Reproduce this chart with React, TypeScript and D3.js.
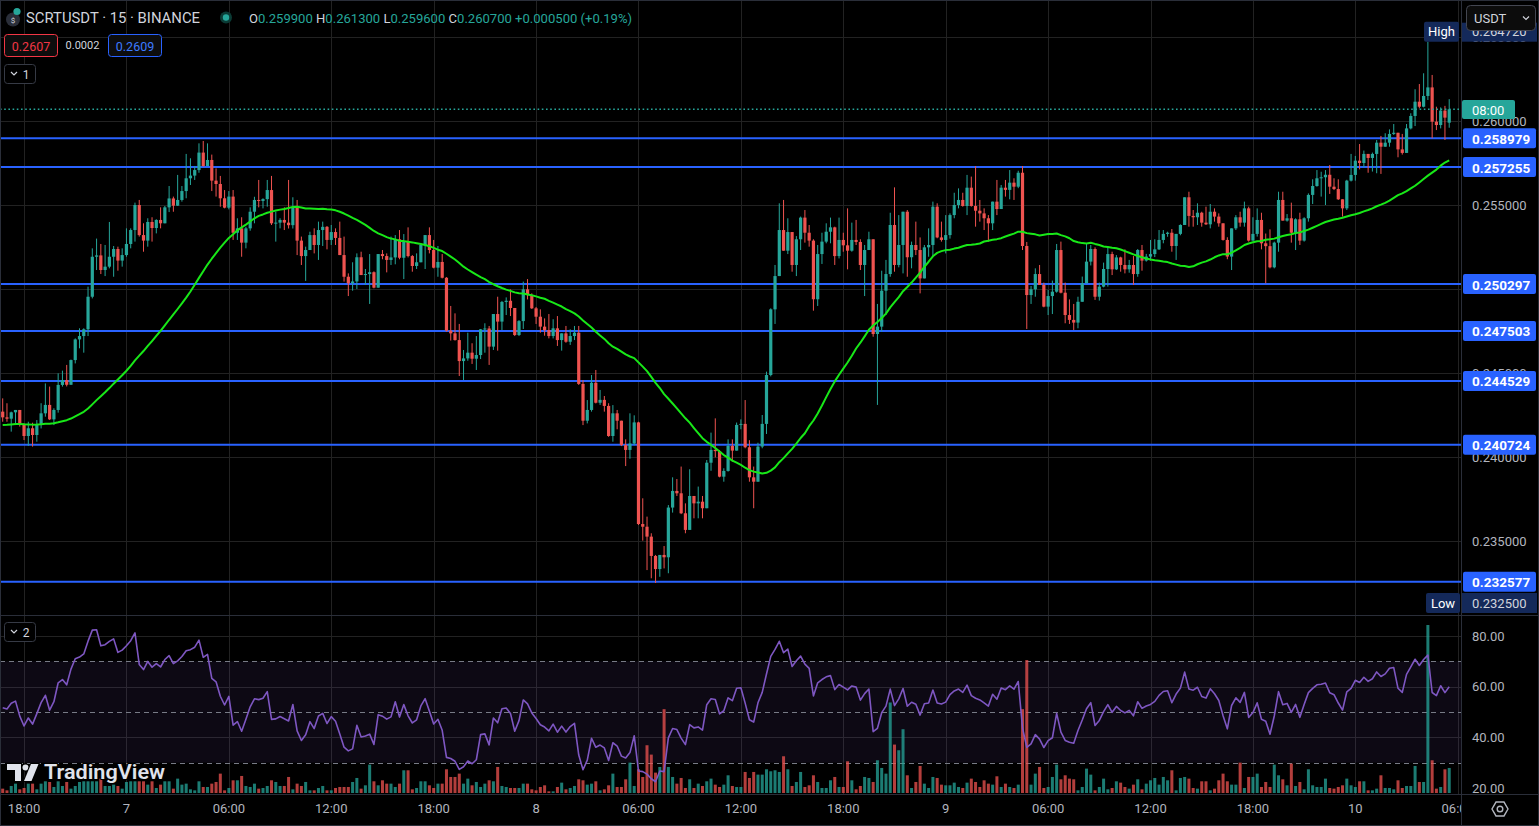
import { useEffect, useRef } from "react";
import * as d3 from "d3";

// SCRTUSDT 15m candles, prices in units of 0.0001 USDT (open = previous close,
// except the first and the last candle)
const FIRST_OPEN = 2427.0;
const LAST_OPEN = 2599.0;

const CLOSE = [
  2423.6, 2422.8, 2426.6, 2428.0, 2419.1, 2412.5, 2417.1, 2413.1, 2419.1, 2426.0,
  2431.0, 2422.4, 2428.0, 2442.9, 2445.8, 2443.0, 2457.7, 2470.0, 2472.0, 2476.0,
  2495.4, 2519.2, 2520.0, 2511.3, 2513.3, 2519.2, 2523.8, 2516.9, 2520.2, 2526.8,
  2535.1, 2550.0, 2532.1, 2528.8, 2539.9, 2536.3, 2541.1, 2539.1, 2548.6, 2553.9,
  2549.6, 2553.0, 2558.3, 2565.9, 2567.5, 2570.8, 2581.2, 2573.2, 2576.8, 2564.5,
  2562.5, 2554.0, 2548.4, 2555.0, 2533.5, 2536.1, 2527.6, 2536.1, 2546.0, 2553.0,
  2552.4, 2553.5, 2558.9, 2539.1, 2539.5, 2541.1, 2539.5, 2538.0, 2548.6, 2528.8,
  2519.6, 2523.2, 2532.1, 2526.2, 2535.1, 2537.0, 2529.2, 2533.9, 2530.4, 2520.2,
  2507.3, 2503.4, 2504.5, 2518.9, 2508.3, 2508.9, 2510.0, 2500.8, 2520.8, 2519.6,
  2517.3, 2518.8, 2529.6, 2518.6, 2528.2, 2519.6, 2513.7, 2515.9, 2526.2, 2532.1,
  2523.2, 2512.7, 2516.1, 2506.7, 2475.2, 2473.6, 2469.6, 2457.1, 2458.7, 2462.1,
  2458.5, 2460.7, 2476.0, 2476.5, 2465.7, 2485.1, 2480.6, 2492.3, 2493.0, 2488.7,
  2472.6, 2480.9, 2499.8, 2496.4, 2488.5, 2483.5, 2477.6, 2475.5, 2472.0, 2476.6,
  2469.6, 2473.6, 2468.6, 2472.0, 2474.0, 2443.5, 2421.6, 2428.0, 2444.2, 2432.3,
  2434.0, 2430.4, 2412.5, 2426.0, 2421.6, 2407.1, 2404.2, 2408.0, 2420.6, 2360.1,
  2358.5, 2352.6, 2341.1, 2333.3, 2341.7, 2340.3, 2369.9, 2379.8, 2378.4, 2366.5,
  2356.6, 2376.8, 2372.4, 2373.4, 2369.5, 2396.6, 2404.2, 2403.5, 2388.3, 2391.7,
  2406.6, 2403.8, 2419.1, 2419.7, 2405.8, 2387.9, 2385.3, 2406.2, 2419.7, 2448.8,
  2487.9, 2507.7, 2535.1, 2522.8, 2533.9, 2514.3, 2529.6, 2542.5, 2533.5, 2528.8,
  2493.9, 2520.8, 2528.2, 2534.1, 2536.7, 2519.6, 2529.2, 2526.0, 2522.8, 2529.2,
  2528.0, 2514.3, 2523.2, 2529.6, 2473.2, 2477.6, 2499.0, 2508.9, 2538.1, 2514.3,
  2526.2, 2546.0, 2518.9, 2526.2, 2523.2, 2506.3, 2524.8, 2526.2, 2549.0, 2530.7,
  2529.2, 2532.1, 2544.0, 2550.0, 2553.0, 2549.4, 2560.3, 2549.4, 2546.6, 2545.0,
  2542.1, 2539.1, 2552.0, 2547.6, 2560.3, 2559.0, 2563.3, 2560.9, 2569.2, 2525.6,
  2496.4, 2499.8, 2508.9, 2502.4, 2489.5, 2495.8, 2498.4, 2523.2, 2497.8, 2484.5,
  2481.6, 2480.0, 2492.4, 2503.4, 2516.3, 2523.8, 2495.4, 2501.4, 2511.9, 2520.8,
  2511.7, 2518.8, 2514.3, 2511.7, 2514.3, 2508.9, 2523.2, 2516.9, 2519.3, 2520.8,
  2523.6, 2529.2, 2532.8, 2533.5, 2525.6, 2532.8, 2538.1, 2554.6, 2543.5, 2542.7,
  2545.4, 2539.5, 2538.5, 2546.0, 2543.1, 2539.1, 2529.2, 2519.3, 2536.1, 2542.7,
  2539.5, 2548.0, 2528.8, 2532.8, 2541.1, 2527.2, 2525.5, 2512.9, 2527.6, 2553.0,
  2540.7, 2542.1, 2533.5, 2541.5, 2528.8, 2542.1, 2556.0, 2561.3, 2565.9, 2566.5,
  2568.0, 2560.9, 2559.5, 2553.4, 2548.0, 2564.5, 2567.9, 2576.4, 2575.0, 2580.4,
  2578.0, 2580.4, 2587.1, 2584.7, 2587.1, 2592.3, 2593.0, 2583.1, 2581.0, 2595.6,
  2603.0, 2611.5, 2608.5, 2614.9, 2620.0, 2599.6, 2597.6, 2606.2, 2602.0, 2607.0,
];

const HIGH = [
  2434.9, 2432.0, 2427.0, 2428.0, 2428.0, 2420.0, 2421.0, 2420.4, 2422.0, 2432.0,
  2443.8, 2441.9, 2429.0, 2449.8, 2451.4, 2454.8, 2458.0, 2470.6, 2476.6, 2476.6,
  2501.4, 2524.2, 2530.0, 2526.8, 2526.2, 2539.9, 2525.6, 2525.2, 2524.2, 2536.1,
  2536.1, 2551.4, 2553.0, 2539.1, 2542.1, 2542.7, 2541.5, 2548.6, 2549.4, 2561.3,
  2555.0, 2567.9, 2561.3, 2580.4, 2577.8, 2573.2, 2586.7, 2588.1, 2586.7, 2580.0,
  2571.8, 2567.3, 2558.9, 2558.3, 2558.9, 2542.1, 2542.7, 2537.0, 2548.6, 2554.9,
  2564.9, 2554.0, 2564.9, 2567.3, 2546.0, 2542.1, 2548.6, 2564.9, 2554.6, 2553.0,
  2531.2, 2525.2, 2534.1, 2536.1, 2540.1, 2540.1, 2537.5, 2538.1, 2536.1, 2540.1,
  2531.2, 2509.3, 2515.9, 2521.2, 2522.2, 2511.9, 2520.8, 2510.5, 2520.8, 2523.2,
  2521.2, 2531.2, 2532.1, 2535.1, 2532.7, 2536.7, 2520.2, 2521.2, 2526.2, 2532.1,
  2536.7, 2529.2, 2525.6, 2520.8, 2507.1, 2489.9, 2485.5, 2479.2, 2463.7, 2474.0,
  2467.7, 2472.0, 2476.2, 2479.6, 2478.0, 2485.1, 2495.4, 2492.9, 2495.0, 2499.8,
  2487.5, 2481.5, 2504.4, 2505.9, 2497.4, 2489.3, 2487.9, 2482.5, 2485.1, 2482.0,
  2483.9, 2473.6, 2478.0, 2476.0, 2478.0, 2478.0, 2445.8, 2433.9, 2448.8, 2451.8,
  2439.9, 2436.3, 2432.0, 2430.9, 2428.0, 2421.6, 2410.5, 2426.0, 2424.8, 2421.0,
  2375.4, 2364.5, 2354.6, 2341.7, 2341.7, 2347.0, 2371.4, 2387.9, 2386.9, 2394.3,
  2372.4, 2392.7, 2376.8, 2382.4, 2376.8, 2398.2, 2414.5, 2423.0, 2404.2, 2393.3,
  2410.5, 2410.5, 2420.5, 2422.4, 2433.9, 2410.0, 2394.3, 2408.5, 2425.0, 2450.8,
  2488.5, 2514.3, 2551.0, 2553.0, 2542.1, 2533.5, 2531.5, 2543.1, 2547.0, 2538.1,
  2529.6, 2526.2, 2533.5, 2539.1, 2542.5, 2537.1, 2542.5, 2533.5, 2548.0, 2539.5,
  2541.1, 2529.6, 2526.2, 2534.1, 2529.6, 2491.1, 2510.9, 2517.3, 2545.4, 2560.5,
  2544.0, 2546.0, 2547.0, 2528.2, 2540.1, 2530.7, 2526.2, 2536.1, 2552.0, 2551.0,
  2540.1, 2544.0, 2545.0, 2557.3, 2559.9, 2557.3, 2567.9, 2566.9, 2573.2, 2553.0,
  2548.0, 2544.0, 2552.0, 2564.9, 2561.9, 2564.9, 2570.8, 2565.9, 2570.4, 2573.2,
  2528.0, 2501.8, 2512.3, 2514.3, 2503.8, 2499.4, 2505.0, 2526.8, 2528.2, 2503.8,
  2493.8, 2491.1, 2495.4, 2507.4, 2526.8, 2526.2, 2524.8, 2503.8, 2515.7, 2525.2,
  2522.2, 2520.2, 2519.2, 2523.6, 2517.3, 2519.6, 2523.8, 2526.2, 2520.9, 2529.2,
  2529.6, 2535.1, 2535.1, 2534.1, 2535.7, 2532.8, 2538.5, 2554.6, 2557.9, 2547.0,
  2551.0, 2546.0, 2549.0, 2550.6, 2548.0, 2545.0, 2539.1, 2530.8, 2536.1, 2544.0,
  2546.0, 2552.0, 2549.0, 2542.7, 2548.0, 2545.4, 2533.0, 2535.5, 2528.2, 2557.9,
  2557.9, 2544.6, 2551.4, 2542.1, 2545.4, 2542.7, 2556.9, 2565.3, 2570.8, 2569.8,
  2570.8, 2573.8, 2565.9, 2565.3, 2553.4, 2565.0, 2580.4, 2579.2, 2586.3, 2582.4,
  2580.4, 2581.2, 2588.7, 2591.1, 2592.7, 2595.0, 2598.2, 2592.3, 2592.3, 2598.2,
  2604.6, 2618.9, 2622.0, 2628.4, 2647.2, 2627.4, 2608.5, 2608.1, 2609.0, 2613.0,
];

const LOW = [
  2421.0, 2421.0, 2415.1, 2419.0, 2418.1, 2410.1, 2406.6, 2406.2, 2409.1, 2417.0,
  2424.0, 2422.0, 2419.0, 2426.4, 2441.9, 2442.0, 2443.0, 2455.7, 2464.7, 2462.1,
  2472.0, 2494.4, 2511.3, 2508.9, 2507.7, 2512.3, 2507.3, 2510.9, 2513.3, 2519.2,
  2524.2, 2528.2, 2531.2, 2522.2, 2525.2, 2528.2, 2533.1, 2536.1, 2539.9, 2545.8,
  2546.0, 2549.4, 2552.0, 2554.0, 2561.9, 2564.9, 2569.2, 2572.8, 2574.4, 2558.3,
  2555.0, 2549.0, 2548.0, 2547.4, 2529.2, 2529.2, 2519.2, 2524.2, 2534.7, 2539.1,
  2548.6, 2548.0, 2549.0, 2538.1, 2528.2, 2536.1, 2535.1, 2536.0, 2536.0, 2520.2,
  2514.3, 2504.8, 2523.2, 2521.2, 2517.3, 2525.6, 2523.6, 2526.2, 2526.2, 2520.2,
  2504.4, 2495.8, 2499.0, 2500.0, 2508.3, 2502.4, 2491.1, 2500.4, 2500.8, 2517.7,
  2509.9, 2514.3, 2514.7, 2517.7, 2505.9, 2518.8, 2510.3, 2511.9, 2515.9, 2511.9,
  2521.2, 2512.3, 2507.3, 2506.3, 2474.6, 2469.3, 2469.3, 2448.2, 2445.8, 2457.3,
  2455.4, 2451.8, 2458.3, 2462.1, 2454.8, 2463.7, 2463.3, 2475.6, 2484.5, 2483.9,
  2472.0, 2472.0, 2476.2, 2493.8, 2488.1, 2479.2, 2474.0, 2472.2, 2470.6, 2470.6,
  2466.1, 2463.3, 2468.0, 2466.7, 2469.6, 2442.9, 2419.0, 2420.0, 2427.0, 2431.9,
  2431.0, 2427.0, 2412.0, 2409.1, 2416.5, 2406.5, 2394.6, 2399.0, 2407.0, 2359.5,
  2350.2, 2332.7, 2327.8, 2325.0, 2328.7, 2333.7, 2330.8, 2366.9, 2376.8, 2366.0,
  2354.6, 2356.6, 2363.5, 2363.5, 2363.5, 2372.4, 2391.8, 2399.8, 2387.9, 2385.3,
  2391.3, 2397.2, 2404.6, 2416.5, 2405.2, 2385.3, 2369.5, 2386.3, 2405.2, 2413.7,
  2448.0, 2479.2, 2511.3, 2522.8, 2520.8, 2510.3, 2507.7, 2523.2, 2527.6, 2525.2,
  2487.1, 2489.9, 2514.9, 2527.2, 2527.2, 2514.3, 2518.2, 2522.2, 2511.7, 2522.2,
  2526.2, 2511.3, 2495.8, 2524.2, 2471.6, 2431.0, 2474.6, 2484.5, 2507.3, 2510.3,
  2512.9, 2509.3, 2507.3, 2512.3, 2520.2, 2497.4, 2508.3, 2519.2, 2519.2, 2530.2,
  2528.2, 2521.2, 2530.0, 2542.1, 2548.0, 2549.0, 2544.0, 2549.0, 2537.1, 2540.1,
  2535.1, 2528.2, 2535.1, 2544.0, 2549.0, 2555.0, 2553.4, 2553.0, 2560.0, 2523.2,
  2476.2, 2491.1, 2495.4, 2502.4, 2489.1, 2484.5, 2485.1, 2497.8, 2497.4, 2479.6,
  2479.2, 2475.6, 2476.6, 2492.4, 2505.4, 2514.0, 2493.5, 2493.1, 2501.0, 2501.4,
  2508.3, 2511.3, 2510.3, 2509.3, 2509.7, 2502.4, 2507.3, 2510.9, 2516.3, 2516.9,
  2519.0, 2523.2, 2527.2, 2531.1, 2522.2, 2517.3, 2532.0, 2539.1, 2537.1, 2537.1,
  2538.1, 2537.1, 2538.1, 2536.1, 2540.1, 2537.1, 2528.8, 2517.7, 2511.3, 2535.1,
  2537.1, 2537.1, 2528.2, 2528.8, 2531.2, 2523.6, 2503.4, 2512.3, 2512.3, 2522.2,
  2540.7, 2540.1, 2527.6, 2523.2, 2526.2, 2528.2, 2540.1, 2550.6, 2560.9, 2555.0,
  2550.0, 2556.6, 2558.9, 2553.0, 2543.1, 2547.0, 2564.0, 2564.5, 2571.2, 2572.4,
  2569.2, 2569.9, 2568.9, 2568.5, 2584.7, 2584.7, 2591.7, 2578.4, 2580.0, 2581.0,
  2595.0, 2597.0, 2607.5, 2608.1, 2612.5, 2589.7, 2594.6, 2595.6, 2588.7, 2596.0,
];

// volume per candle (relative units)
const VOLUME = [
  13, 8, 21, 28, 11, 15, 28, 28, 11, 28,
  35, 33, 18, 35, 21, 33, 13, 21, 33, 35,
  35, 35, 35, 43, 21, 21, 25, 21, 13, 33,
  35, 35, 35, 35, 25, 35, 15, 25, 35, 35,
  13, 43, 25, 28, 11, 8, 35, 18, 18, 28,
  33, 58, 8, 15, 38, 38, 51, 21, 18, 28,
  13, 15, 21, 38, 33, 21, 21, 48, 11, 28,
  21, 33, 8, 8, 15, 21, 8, 8, 15, 18,
  18, 18, 33, 45, 13, 23, 85, 35, 23, 38,
  28, 28, 18, 28, 68, 68, 11, 15, 35, 35,
  23, 15, 28, 28, 71, 48, 48, 58, 28, 43,
  23, 33, 18, 28, 38, 35, 78, 21, 18, 15,
  15, 15, 28, 28, 11, 8, 18, 23, 5, 5,
  18, 31, 11, 15, 21, 41, 38, 25, 28, 35,
  8, 11, 23, 58, 18, 18, 41, 91, 21, 71,
  48, 143, 115, 61, 78, 251, 78, 48, 28, 45,
  15, 41, 15, 28, 21, 35, 43, 25, 18, 25,
  53, 21, 18, 18, 63, 45, 63, 55, 55, 71,
  65, 68, 63, 110, 71, 21, 33, 63, 18, 23,
  53, 33, 15, 15, 38, 48, 18, 18, 95, 38,
  11, 21, 48, 45, 33, 98, 75, 58, 271, 145,
  128, 191, 53, 15, 33, 81, 28, 15, 48, 45,
  25, 23, 23, 31, 18, 15, 31, 43, 33, 18,
  38, 28, 25, 50, 18, 28, 18, 15, 25, 251,
  398, 25, 58, 78, 15, 18, 48, 85, 41, 53,
  43, 41, 8, 18, 73, 55, 8, 18, 43, 11,
  15, 35, 31, 18, 13, 25, 41, 11, 28, 38,
  45, 25, 48, 38, 68, 8, 45, 48, 43, 15,
  13, 35, 35, 8, 13, 38, 58, 35, 25, 25,
  91, 15, 48, 48, 58, 18, 33, 18, 85, 53,
  41, 23, 88, 21, 33, 11, 71, 23, 18, 18,
  43, 15, 13, 18, 23, 43, 23, 18, 35, 35,
  8, 8, 13, 53, 15, 15, 11, 38, 15, 21,
  21, 81, 33, 33, 503, 98, 13, 18, 71, 75,
];

// drawn horizontal levels, price and rsi scale ticks
const LEVELS = [0.258979, 0.257255, 0.250297, 0.247503, 0.244529, 0.240724, 0.232577];
const PRICE_TICKS = [0.235, 0.24, 0.245, 0.25, 0.255, 0.26, 0.265];
const RSI_TICKS = [20, 40, 60, 80];
const RSI_GRID = [40, 60, 80];
const RSI_GUIDES = [70, 50, 30];

const MA_LENGTH = 40;
const MA_SEED = 2419; // level of the average before the first visible candle
const RSI_LENGTH = 14;
const RSI_SEED_GAIN = 3.6;
const RSI_SEED_LOSS = 3.1;

const START = new Date(2024, 5, 6, 16, 45);
const STEP_MS = 15 * 60 * 1000;

const W = 1539;
const H = 826;
const PANE_R = 1461;
const FONT = "Roboto, 'Noto Sans', Arial, sans-serif";
const UP = "#26a69a";
const DOWN = "#ef5350";
const GRID = "#222222";
const BORDER = "#2a2e39";
const AXIS_TEXT = "#b2b5be";
const LEVEL = "#2962ff";
const NAVY = "#14295a";

export default function App() {
  const ref = useRef<SVGSVGElement>(null);

  useEffect(() => {
    if (!ref.current) return;
    const svg = d3.select(ref.current);
    svg.selectAll("*").remove();

    const n = CLOSE.length;
    const bars = CLOSE.map((c, i) => {
      const o = i === 0 ? FIRST_OPEN : i === n - 1 ? LAST_OPEN : CLOSE[i - 1];
      return {
        t: new Date(START.getTime() + i * STEP_MS),
        o: o / 1e4,
        c: c / 1e4,
        h: Math.max(HIGH[i], o, c) / 1e4,
        l: Math.min(LOW[i], o, c) / 1e4,
        v: VOLUME[i],
        up: c >= o,
      };
    });

    // moving average (40) and rsi (14)
    const ma = CLOSE.map((_, i) => {
      let s = 0;
      for (let k = i - MA_LENGTH + 1; k <= i; k++) s += k >= 0 ? CLOSE[k] : MA_SEED;
      return s / MA_LENGTH / 1e4;
    });
    let gain = RSI_SEED_GAIN;
    let loss = RSI_SEED_LOSS;
    const rsi = CLOSE.map((c, i) => {
      const d = c - (i === 0 ? FIRST_OPEN : CLOSE[i - 1]);
      gain = (gain * (RSI_LENGTH - 1) + Math.max(d, 0)) / RSI_LENGTH;
      loss = (loss * (RSI_LENGTH - 1) + Math.max(-d, 0)) / RSI_LENGTH;
      return 100 - 100 / (1 + gain / loss);
    });

    const x = d3.scaleTime().domain([bars[0].t, bars[n - 1].t]).range([2.7, 2.7 + (n - 1) * 4.267]);
    const y = d3.scaleLinear().domain([0.235, 0.255]).range([541, 205]);
    const yRsi = d3.scaleLinear().domain([20, 80]).range([788, 636]);
    const yVol = d3.scaleLinear().domain([0, d3.max(VOLUME) as number]).range([793, 625]);
    const fmt = d3.format(".6f");

    const defs = svg.append("defs");
    const clip = (id: string, x0: number, y0: number, w: number, h: number) =>
      defs.append("clipPath").attr("id", id).append("rect").attr("x", x0).attr("y", y0).attr("width", w).attr("height", h);
    clip("clip-main", 0, 0, PANE_R, 615);
    clip("clip-sub", 0, 616, PANE_R, 177);
    clip("clip-time", 0, 795, PANE_R, 31);

    svg.append("rect").attr("width", W).attr("height", H).attr("fill", "#000");

    // GRID
    const timeTicks = d3.timeHour
      .range(new Date(START.getTime() - 3600e3), new Date(START.getTime() + 90 * 3600e3))
      .filter((d) => d.getHours() % 6 === 0 && x(d) > 0 && x(d) < PANE_R);
    const grid = svg.append("g").attr("stroke", GRID).attr("stroke-width", 1);
    grid.selectAll("line.v").data(timeTicks).join("line")
      .attr("x1", (d) => Math.round(x(d)) + 0.5).attr("x2", (d) => Math.round(x(d)) + 0.5)
      .attr("y1", 0).attr("y2", 794);
    grid.selectAll("line.p").data(PRICE_TICKS).join("line")
      .attr("x1", 0).attr("x2", PANE_R)
      .attr("y1", (d) => Math.round(y(d)) + 0.5).attr("y2", (d) => Math.round(y(d)) + 0.5);
    grid.selectAll("line.r").data(RSI_GRID).join("line")
      .attr("x1", 0).attr("x2", PANE_R)
      .attr("y1", (d) => Math.round(yRsi(d)) + 0.5).attr("y2", (d) => Math.round(yRsi(d)) + 0.5);

    // RSI PANE
    const sub = svg.append("g").attr("clip-path", "url(#clip-sub)");
    sub.append("rect")
      .attr("x", 0).attr("width", PANE_R)
      .attr("y", yRsi(70)).attr("height", yRsi(30) - yRsi(70))
      .attr("fill", "rgba(126, 87, 194, 0.1)");
    sub.selectAll("line.g").data(RSI_GUIDES).join("line")
      .attr("x1", 0).attr("x2", PANE_R)
      .attr("y1", (d) => Math.round(yRsi(d)) + 0.5).attr("y2", (d) => Math.round(yRsi(d)) + 0.5)
      .attr("stroke", "#787b86").attr("stroke-dasharray", "5 4").attr("stroke-width", 1);

    // volume
    sub.selectAll("rect.vol").data(bars).join("rect")
      .attr("x", (d) => x(d.t) - 1.5).attr("width", 3)
      .attr("y", (d) => yVol(d.v)).attr("height", (d) => yVol(0) - yVol(d.v))
      .attr("fill", (d) => (d.up ? UP : DOWN)).attr("fill-opacity", 0.75);

    // TradingView watermark
    const wm = svg.append("g").attr("fill", "#e0e3eb").attr("stroke", "#000").attr("stroke-width", 2).attr("paint-order", "stroke");
    wm.append("path").attr("d", "M7 764h14v17h-6v-11h-8z");
    wm.append("circle").attr("cx", 25.5).attr("cy", 767.5).attr("r", 3);
    wm.append("path").attr("d", "M31 764h7.5l-7 17h-7.5z");
    wm.append("text")
      .attr("x", 44).attr("y", 772).attr("dominant-baseline", "central")
      .attr("font-family", FONT).attr("font-size", 20).attr("font-weight", 600)
      .attr("textLength", 121).attr("lengthAdjust", "spacingAndGlyphs")
      .text("TradingView");

    sub.append("path").datum(rsi)
      .attr("fill", "none").attr("stroke", "#7e57c2").attr("stroke-width", 1.6)
      .attr("stroke-linejoin", "round")
      .attr("d", d3.line<number>().x((_d, i) => x(bars[i].t)).y((d) => yRsi(d)));

    // MAIN PANE
    const main = svg.append("g").attr("clip-path", "url(#clip-main)");

    // levels
    main.selectAll("line.lvl").data(LEVELS).join("line")
      .attr("x1", 0).attr("x2", PANE_R)
      .attr("y1", (d) => y(d)).attr("y2", (d) => y(d))
      .attr("stroke", LEVEL).attr("stroke-width", 2);

    // candles
    main.selectAll("line.wick").data(bars).join("line")
      .attr("x1", (d) => x(d.t)).attr("x2", (d) => x(d.t))
      .attr("y1", (d) => y(d.h)).attr("y2", (d) => y(d.l))
      .attr("stroke", (d) => (d.up ? UP : DOWN)).attr("stroke-width", 1);
    main.selectAll("rect.body").data(bars).join("rect")
      .attr("x", (d) => x(d.t) - 1.6).attr("width", 3.2)
      .attr("y", (d) => y(Math.max(d.o, d.c)))
      .attr("height", (d) => Math.max(1, Math.abs(y(d.o) - y(d.c))))
      .attr("fill", (d) => (d.up ? UP : DOWN));

    // moving average
    main.append("path").datum(ma)
      .attr("fill", "none").attr("stroke", "#18e818").attr("stroke-width", 2)
      .attr("stroke-linejoin", "round")
      .attr("d", d3.line<number>().x((_d, i) => x(bars[i].t)).y((d) => y(d)));

    // last price line
    const last = bars[n - 1];
    main.append("line")
      .attr("x1", 0).attr("x2", PANE_R)
      .attr("y1", y(last.c)).attr("y2", y(last.c))
      .attr("stroke", UP).attr("stroke-width", 1.6).attr("stroke-dasharray", "1.6 2.6");

    // FRAME
    const frame = svg.append("g").attr("stroke", BORDER).attr("stroke-width", 1);
    frame.append("line").attr("x1", 0).attr("x2", W).attr("y1", 615.5).attr("y2", 615.5);
    frame.append("line").attr("x1", 0).attr("x2", W).attr("y1", 794.5).attr("y2", 794.5);
    frame.append("line").attr("x1", PANE_R + 0.5).attr("x2", PANE_R + 0.5).attr("y1", 0).attr("y2", H);
    frame.append("rect").attr("x", 0.5).attr("y", 0.5).attr("width", W - 1).attr("height", H - 1).attr("fill", "none");

    // PRICE AXIS
    const axis = svg.append("g").attr("font-family", FONT).attr("font-size", 13);
    axis.selectAll("text.p").data(PRICE_TICKS).join("text")
      .attr("x", 1472).attr("y", (d) => y(d)).attr("dominant-baseline", "central")
      .attr("fill", AXIS_TEXT).text((d) => fmt(d));
    axis.selectAll("text.r").data(RSI_TICKS).join("text")
      .attr("x", 1472).attr("y", (d) => yRsi(d)).attr("dominant-baseline", "central")
      .attr("fill", AXIS_TEXT).text((d) => d3.format(".2f")(d));

    // level labels
    const lvl = axis.selectAll("g.lvl").data(LEVELS).join("g")
      .attr("transform", (d) => `translate(1463,${y(d)})`);
    lvl.append("rect").attr("x", 0).attr("y", -10).attr("width", 73).attr("height", 20).attr("rx", 2).attr("fill", LEVEL);
    lvl.append("text").attr("x", 9).attr("y", 0.5).attr("dominant-baseline", "central")
      .attr("fill", "#fff").attr("font-weight", 700).attr("font-size", 13.5).text((d) => fmt(d));

    // countdown label on last price
    axis.append("rect").attr("x", 1462).attr("y", 100).attr("width", 53).attr("height", 19).attr("rx", 2).attr("fill", UP);
    axis.append("text").attr("x", 1472).attr("y", 110).attr("dominant-baseline", "central").attr("fill", "#fff").text("08:00");

    // high / low markers
    const hi = d3.max(bars, (d) => d.h) as number;
    const lo = d3.min(bars, (d) => d.l) as number;
    const yHi = y(hi) - 10;
    const yLo = y(lo) + 20;
    axis.append("rect").attr("x", 1424).attr("y", yHi - 10).attr("width", 35).attr("height", 20).attr("rx", 2).attr("fill", NAVY);
    axis.append("text").attr("x", 1441.5).attr("y", yHi).attr("text-anchor", "middle").attr("dominant-baseline", "central").attr("fill", "#fff").text("High");
    axis.append("rect").attr("x", 1462).attr("y", yHi - 9).attr("width", 75).attr("height", 19).attr("fill", NAVY);
    axis.append("text").attr("x", 1472).attr("y", yHi).attr("dominant-baseline", "central").attr("fill", "#d1d4dc").text(fmt(hi));
    axis.append("rect").attr("x", 1426).attr("y", yLo - 10).attr("width", 34).attr("height", 20).attr("rx", 2).attr("fill", NAVY);
    axis.append("text").attr("x", 1443).attr("y", yLo).attr("text-anchor", "middle").attr("dominant-baseline", "central").attr("fill", "#fff").text("Low");
    axis.append("rect").attr("x", 1462).attr("y", yLo - 10).attr("width", 75).attr("height", 20).attr("fill", NAVY);
    axis.append("text").attr("x", 1472).attr("y", yLo).attr("dominant-baseline", "central").attr("fill", "#d1d4dc").text(fmt(lo));

    // currency selector
    axis.append("rect").attr("x", 1466.5).attr("y", 5.5).attr("width", 69).attr("height", 25).attr("rx", 4)
      .attr("fill", "#0c0c0c").attr("stroke", "#434651");
    axis.append("text").attr("x", 1474).attr("y", 18.5).attr("dominant-baseline", "central").attr("fill", "#d1d4dc").text("USDT");
    axis.append("path").attr("d", "M1523 16.5l3 3l3 -3").attr("fill", "none").attr("stroke", "#d1d4dc").attr("stroke-width", 1.2);

    // TIME AXIS
    const time = svg.append("g").attr("clip-path", "url(#clip-time)").attr("font-family", FONT).attr("font-size", 13);
    time.selectAll("text").data(timeTicks).join("text")
      .attr("x", (d) => x(d)).attr("y", 808.5)
      .attr("text-anchor", "middle").attr("dominant-baseline", "central")
      .attr("fill", AXIS_TEXT)
      .text((d) => (d.getHours() === 0 ? String(d.getDate()) : d3.timeFormat("%H:%M")(d)));

    // settings icon
    const hex = d3.range(6).map((k) => {
      const a = (Math.PI / 3) * k;
      return [1500 + 8 * Math.cos(a), 809 + 8 * Math.sin(a)] as [number, number];
    });
    svg.append("path").attr("d", d3.line()(hex) + "Z").attr("fill", "none").attr("stroke", AXIS_TEXT).attr("stroke-width", 1.4);
    svg.append("circle").attr("cx", 1500).attr("cy", 809).attr("r", 2.8).attr("fill", "none").attr("stroke", AXIS_TEXT).attr("stroke-width", 1.4);

    // HEADER
    const head = svg.append("g").attr("font-family", FONT);
    head.append("circle").attr("cx", 13).attr("cy", 19.5).attr("r", 7).attr("fill", "#2a2e39");
    head.append("text").attr("x", 13).attr("y", 20.5).attr("text-anchor", "middle").attr("dominant-baseline", "central")
      .attr("font-size", 8).attr("fill", "#d1d4dc").text("$");
    head.append("circle").attr("cx", 17).attr("cy", 11.5).attr("r", 3.6).attr("fill", UP);
    head.append("text").attr("x", 26).attr("y", 17.5).attr("dominant-baseline", "central")
      .attr("font-size", 14).attr("fill", "#d1d4dc")
      .attr("textLength", 174).attr("lengthAdjust", "spacingAndGlyphs")
      .text("SCRTUSDT · 15 · BINANCE");
    head.append("circle").attr("cx", 226).attr("cy", 17.5).attr("r", 6).attr("fill", "#0b3b35");
    head.append("circle").attr("cx", 226).attr("cy", 17.5).attr("r", 3.2).attr("fill", UP);

    // change is measured against the previous candle's close
    const prevClose = CLOSE[n - 2] / 1e4;
    const change = last.c - prevClose;
    const ohlc = head.append("text").attr("x", 249).attr("y", 17.5).attr("dominant-baseline", "central")
      .attr("font-size", 12.5).attr("textLength", 383).attr("lengthAdjust", "spacingAndGlyphs");
    const parts: [string, string][] = [
      ["O", fmt(last.o)], ["H", fmt(last.h)], ["L", fmt(last.l)], ["C", fmt(last.c)],
    ];
    parts.forEach(([k, v], i) => {
      ohlc.append("tspan").attr("fill", "#d1d4dc").text((i ? " " : "") + k);
      ohlc.append("tspan").attr("fill", UP).text(v);
    });
    ohlc.append("tspan").attr("fill", UP)
      .text(` +${fmt(change)} (+${d3.format(".2f")((change / prevClose) * 100)}%)`);

    // bid / spread / ask
    head.append("rect").attr("x", 4.5).attr("y", 34.5).attr("width", 53).attr("height", 22).attr("rx", 3)
      .attr("fill", "#0d0d0d").attr("stroke", "#f23645");
    head.append("text").attr("x", 31).attr("y", 46).attr("text-anchor", "middle").attr("dominant-baseline", "central")
      .attr("font-size", 12.5).attr("fill", "#f23645").text("0.2607");
    head.append("text").attr("x", 82.5).attr("y", 45.5).attr("text-anchor", "middle").attr("dominant-baseline", "central")
      .attr("font-size", 11).attr("fill", "#d1d4dc").text("0.0002");
    head.append("rect").attr("x", 108.5).attr("y", 34.5).attr("width", 53).attr("height", 22).attr("rx", 3)
      .attr("fill", "#0d0d0d").attr("stroke", LEVEL);
    head.append("text").attr("x", 135).attr("y", 46).attr("text-anchor", "middle").attr("dominant-baseline", "central")
      .attr("font-size", 12.5).attr("fill", "#3d7bff").text("0.2609");

    // pane toggles
    [
      [64.5, "1"],
      [622.5, "2"],
    ].forEach(([top, label]) => {
      const t = +top;
      head.append("rect").attr("x", 4.5).attr("y", t).attr("width", 31).attr("height", 19).attr("rx", 3)
        .attr("fill", "#000").attr("stroke", "#363a45");
      head.append("path").attr("d", `M11 ${t + 7.5}l3 3l3 -3`).attr("fill", "none").attr("stroke", "#d1d4dc").attr("stroke-width", 1.2);
      head.append("text").attr("x", 26).attr("y", t + 10).attr("text-anchor", "middle").attr("dominant-baseline", "central")
        .attr("font-size", 12).attr("fill", "#d1d4dc").text(String(label));
    });
  }, []);

  return (
    <svg
      ref={ref}
      width={W}
      height={H}
      style={{ position: "absolute", left: 0, top: 0, display: "block", background: "#000" }}
    />
  );
}
